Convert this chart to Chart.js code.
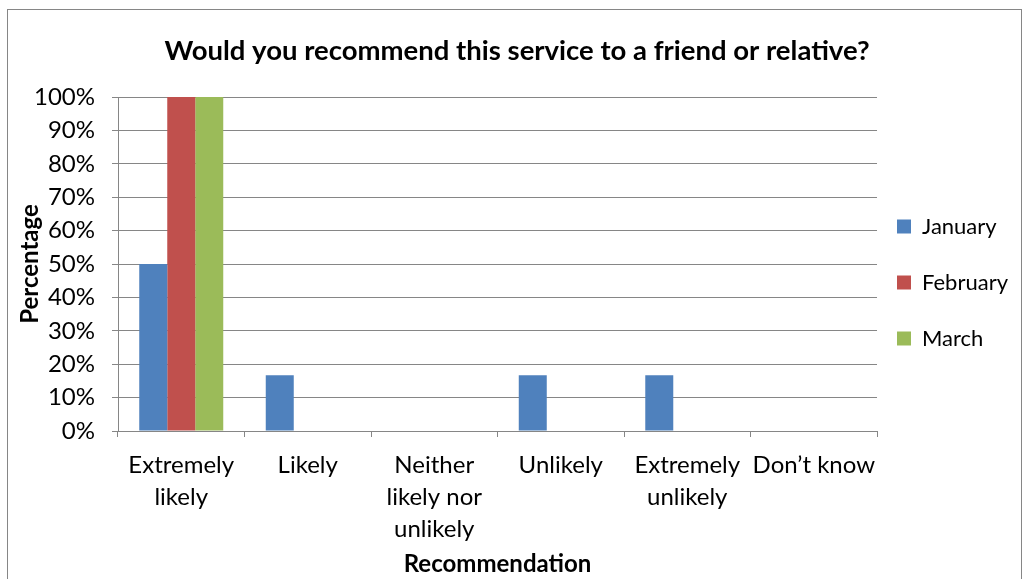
<!DOCTYPE html>
<html>
<head>
<meta charset="utf-8">
<script src="https://cdn.jsdelivr.net/npm/chart.js@4"></script>
<style>
  body { margin: 0; background: #fff; }
  #wrap { position: relative; width: 1032px; height: 579px; }
  #frame { position: absolute; left: 7px; top: 9px; width: 1013px; height: 600px; border: 1px solid #868686; }
  canvas { position: absolute; left: 0; top: 0; }
</style>
</head>
<body>
<div id="wrap">
  <div id="frame"></div>
  <canvas id="chart" width="1032" height="579"></canvas>
</div>
<script>
const categories = [['Extremely', 'likely'], 'Likely', ['Neither', 'likely nor', 'unlikely'], 'Unlikely', ['Extremely', 'unlikely'], 'Don\u2019t know'];
const january = [50, 16.7, 0, 16.7, 16.7, 0];
const february = [100, 0, 0, 0, 0, 0];
const march = [100, 0, 0, 0, 0, 0];
const yTicks = [0, 10, 20, 30, 40, 50, 60, 70, 80, 90, 100];

const font = 'Lato, "Open Sans", sans-serif';
const gridColor = '#868686';

// plot area edges
const plotLeft = 118, plotRight = 877, plotBottom = 431;

new Chart(document.getElementById('chart'), {
    type: 'bar',
    data: {
        labels: categories,
        datasets: [
            { label: 'January', data: january, backgroundColor: '#4F81BD' },
            { label: 'February', data: february, backgroundColor: '#C0504D' },
            { label: 'March', data: march, backgroundColor: '#9BBB59' }
        ]
    },
    options: {
        responsive: false,
        animation: false,
        layout: { padding: { left: 16, right: 14, top: 0, bottom: 0 } },
        datasets: { bar: { barPercentage: 1, categoryPercentage: 0.664 } },
        plugins: {
            title: {
                display: true,
                text: 'Would you recommend this service to a friend or relative?',
                color: '#000',
                font: { family: font, size: 27.5, weight: 'bold', lineHeight: 1.2 },
                padding: { top: 35, bottom: 29 }
            },
            legend: {
                position: 'right',
                maxWidth: 1032 - 14 - plotRight,
                labels: {
                    color: '#000',
                    font: { family: font, size: 22, lineHeight: 36 / 22 },
                    boxWidth: 14,
                    boxHeight: 14,
                    padding: 20,
                    // text as array so the row height follows the font line height
                    generateLabels: chart => Chart.defaults.plugins.legend.labels.generateLabels(chart)
                        .map(item => Object.assign(item, { text: [item.text] }))
                }
            },
            tooltip: { enabled: false }
        },
        scales: {
            x: {
                afterFit: s => { s.height = 579 - plotBottom; },
                grid: { drawOnChartArea: false, color: gridColor, tickLength: 6 },
                border: { color: gridColor },
                ticks: {
                    color: '#000',
                    font: { family: font, size: 24, lineHeight: 1.34 },
                    maxRotation: 0,
                    autoSkip: false,
                    padding: 12
                },
                title: {
                    display: true,
                    text: 'Recommendation',
                    color: '#000',
                    font: { family: font, size: 24, weight: 'bold', lineHeight: 1.2 },
                    padding: { top: 0, bottom: 0 }
                }
            },
            y: {
                min: 0,
                max: 100,
                afterBuildTicks: s => { s.ticks = yTicks.map(v => ({ value: v })); },
                afterFit: s => { s.width = plotLeft - 16; },
                grid: { color: gridColor, tickLength: 6 },
                border: { color: gridColor },
                ticks: {
                    color: '#000',
                    font: { family: font, size: 24 },
                    padding: 17,
                    callback: v => v + '%'
                },
                title: {
                    display: true,
                    text: 'Percentage',
                    color: '#000',
                    font: { family: font, size: 24, weight: 'bold', lineHeight: 1.2 },
                    padding: { top: 0, bottom: 0 }
                }
            }
        }
    }
});
</script>
</body>
</html>
